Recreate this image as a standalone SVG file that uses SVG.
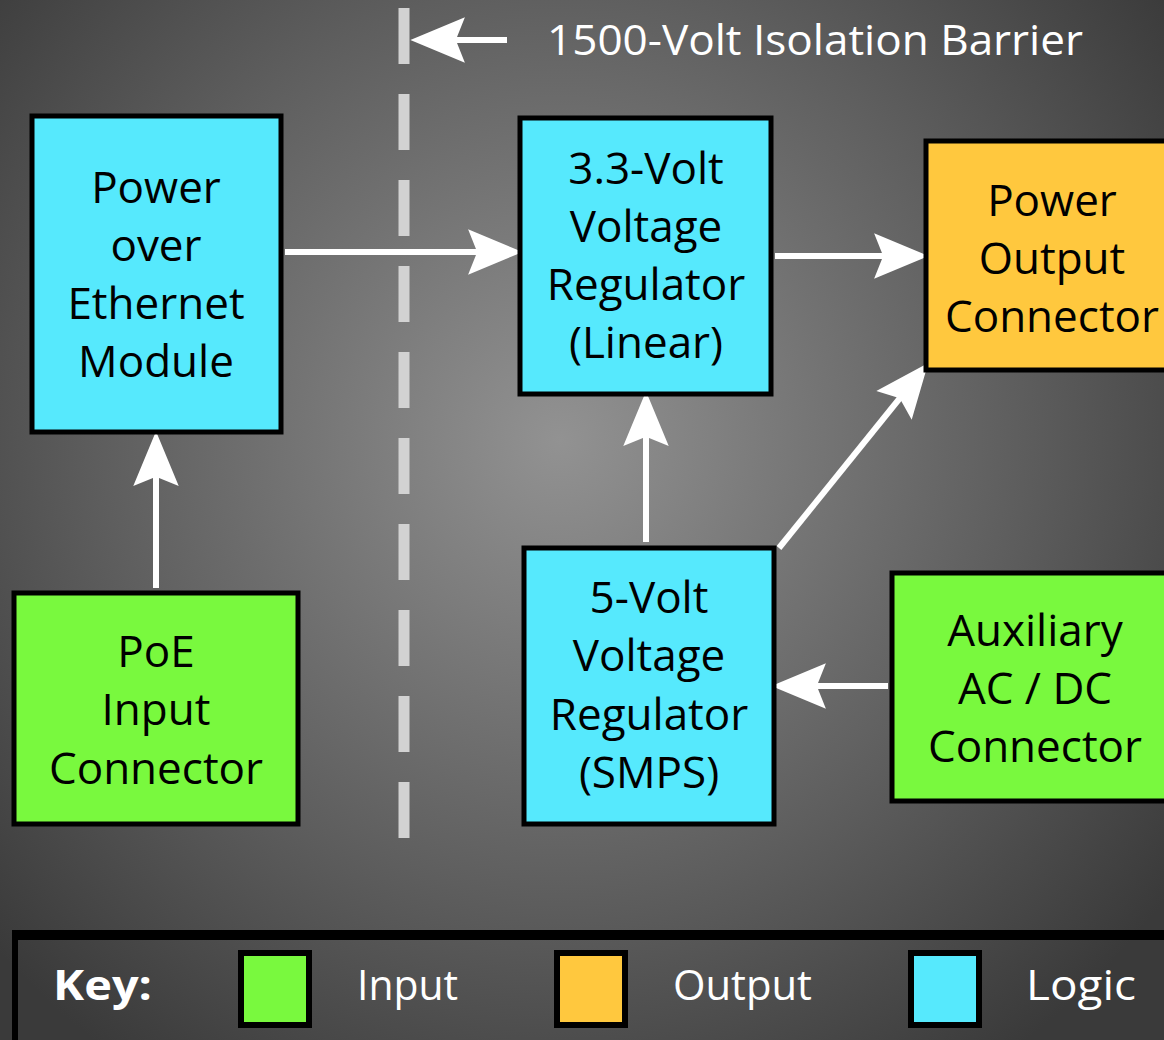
<svg xmlns="http://www.w3.org/2000/svg" width="1164" height="1040" viewBox="0 0 1164 1040">
<defs>
<radialGradient id="bg" cx="560" cy="440" r="760" gradientUnits="userSpaceOnUse">
<stop offset="0" stop-color="#929292"/>
<stop offset="0.6" stop-color="#5e5e5e"/>
<stop offset="1" stop-color="#3a3a3a"/>
</radialGradient>
<marker id="ah" markerUnits="userSpaceOnUse" markerWidth="60" markerHeight="50" viewBox="-16 -22 52 44" refX="0" refY="0" orient="auto">
<path d="M-14,-20 L34,0 L-14,20 L-6,0 Z" fill="#ffffff"/>
</marker>
<style>
.box{stroke:#000;stroke-width:5}
.logic{fill:#56e9fd}
.input{fill:#79f93e}
.output{fill:#ffc83e}
.lbl{font-family:"Open Sans","Noto Sans","DejaVu Sans",sans-serif;font-size:44px;fill:#000;text-anchor:middle}
.conn{stroke:#fff;stroke-width:6;fill:none;marker-end:url(#ah)}
.keyt{font-family:"Open Sans","Noto Sans","DejaVu Sans",sans-serif;font-size:42px;fill:#fff}
</style>
</defs>
<rect x="0" y="0" width="1164" height="1040" fill="url(#bg)"/>

<g id="barrier">
<line x1="404" y1="8" x2="404" y2="842" stroke="#d2d2d2" stroke-width="11" stroke-dasharray="56,30"/>
<line x1="507" y1="40" x2="449" y2="40" class="conn"/>
<text x="547" y="55" font-family="'Open Sans','Noto Sans',sans-serif" font-size="42" fill="#fff" textLength="536" lengthAdjust="spacingAndGlyphs">1500-Volt Isolation Barrier</text>
</g>

<g id="connectors">
<line x1="156" y1="588" x2="156" y2="470" class="conn"/>
<line x1="285" y1="252" x2="484" y2="252" class="conn"/>
<line x1="775" y1="256" x2="890" y2="256" class="conn"/>
<line x1="646" y1="542" x2="646" y2="430" class="conn"/>
<line x1="779" y1="548" x2="904" y2="393" class="conn"/>
<line x1="888" y1="686" x2="810" y2="686" class="conn"/>
</g>

<g id="poe-module">
<rect x="32" y="116" width="249" height="316" class="box logic"/>
<text class="lbl"><tspan x="156" y="203">Power</tspan><tspan x="156" y="261">over</tspan><tspan x="156" y="319">Ethernet</tspan><tspan x="156" y="377">Module</tspan></text>
</g>

<g id="poe-input">
<rect x="14" y="593" width="284" height="231" class="box input"/>
<text class="lbl"><tspan x="156" y="667">PoE</tspan><tspan x="156" y="725">Input</tspan><tspan x="156" y="784">Connector</tspan></text>
</g>

<g id="reg33">
<rect x="520" y="118" width="251" height="276" class="box logic"/>
<text class="lbl"><tspan x="646" y="184">3.3-Volt</tspan><tspan x="646" y="242">Voltage</tspan><tspan x="646" y="300">Regulator</tspan><tspan x="646" y="358">(Linear)</tspan></text>
</g>

<g id="power-output">
<rect x="926" y="141" width="250" height="229" class="box output"/>
<text class="lbl"><tspan x="1052" y="216">Power</tspan><tspan x="1052" y="274">Output</tspan><tspan x="1052" y="332">Connector</tspan></text>
</g>

<g id="reg5">
<rect x="524" y="548" width="250" height="276" class="box logic"/>
<text class="lbl"><tspan x="649" y="613">5-Volt</tspan><tspan x="649" y="671">Voltage</tspan><tspan x="649" y="730">Regulator</tspan><tspan x="649" y="788">(SMPS)</tspan></text>
</g>

<g id="aux">
<rect x="892" y="573" width="280" height="228" class="box input"/>
<text class="lbl"><tspan x="1035" y="646">Auxiliary</tspan><tspan x="1035" y="704">AC / DC</tspan><tspan x="1035" y="762">Connector</tspan></text>
</g>

<g id="key">
<path d="M12,930 H1164 V940 H18 V1040 H12 Z" fill="#000"/>
<text x="53" y="1000" class="keyt" font-weight="bold" textLength="99" lengthAdjust="spacingAndGlyphs">Key:</text>
<rect x="241" y="953" width="68" height="72" class="input" stroke="#000" stroke-width="6"/>
<text x="357" y="1000" class="keyt" textLength="101" lengthAdjust="spacingAndGlyphs">Input</text>
<rect x="557" y="953" width="68" height="72" class="output" stroke="#000" stroke-width="6"/>
<text x="673" y="1000" class="keyt" textLength="139" lengthAdjust="spacingAndGlyphs">Output</text>
<rect x="911" y="953" width="68" height="72" class="logic" stroke="#000" stroke-width="6"/>
<text x="1026" y="1000" class="keyt" textLength="110" lengthAdjust="spacingAndGlyphs">Logic</text>
</g>
</svg>
